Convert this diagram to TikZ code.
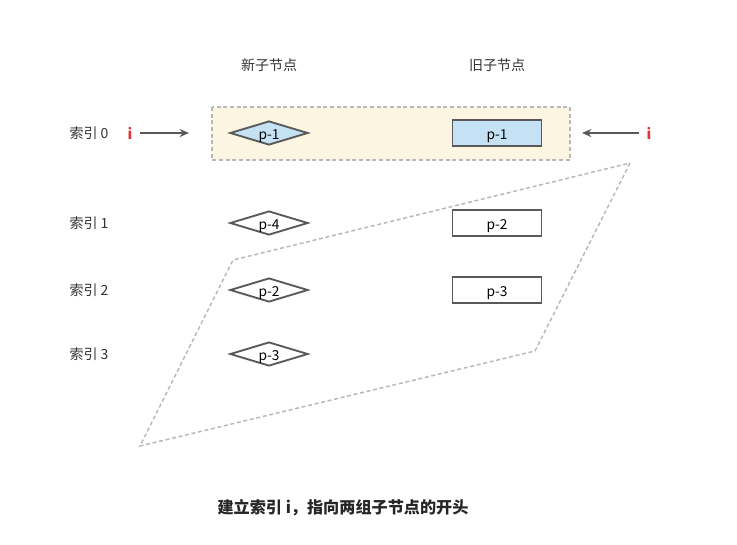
\documentclass[tikz,border=0pt]{standalone}
\usepackage{fontspec}
\setmainfont{Noto Sans CJK SC}
\usepackage{xcolor}
\usetikzlibrary{shapes.geometric,arrows.meta}

\definecolor{linegray}{HTML}{595959}
\definecolor{dashgray}{HTML}{B8B8B8}
\definecolor{paleblue}{HTML}{C5E2F5}
\definecolor{paleyellow}{HTML}{FCF5E1}
\definecolor{ired}{HTML}{E53333}

\tikzset{
  newnode/.style={diamond, draw=linegray, line width=1.4pt, fill=white, aspect=3.25,
    minimum width=58.5pt, minimum height=18pt, inner sep=0pt,
    text height=9.5pt, text depth=0.5pt, font=\fontsize{10.3pt}{11pt}\selectfont},
  oldnode/.style={rectangle, draw=linegray, line width=1.4pt, fill=white,
    minimum width=66.75pt, minimum height=19.5pt, inner sep=0pt,
    text height=9.5pt, text depth=0.5pt, font=\fontsize{10.3pt}{11pt}\selectfont},
  idxlabel/.style={font=\fontsize{10.5pt}{12pt}\selectfont, text=black!80},
  ptr/.style={font=\fontsize{11pt}{12pt}\selectfont\bfseries, text=ired},
  pointer/.style={-{Stealth[length=7pt,width=6pt]}, linegray, line width=1.4pt},
  outline/.style={dashgray, line width=1.1pt, dash pattern=on 3pt off 2pt},
}

\begin{document}
\begin{tikzpicture}[x=0.75pt, y=-0.75pt]
  \useasboundingbox (0,0) rectangle (737,544);
  \def\ra{133};
  \def\rb{223};
  \def\rc{290};
  \def\rd{354};

  % highlighted first row
  \draw[outline, fill=paleyellow] (212,107) rectangle (570,160);

  % column headers
  \node[idxlabel] (newhead) at (269,65) {新子节点};
  \node[idxlabel] (oldhead) at (497,65) {旧子节点};

  % index labels
  \node[idxlabel] (idx0) at (89,\ra) {索引 0};
  \node[idxlabel] (idx1) at (89,\rb) {索引 1};
  \node[idxlabel] (idx2) at (89,\rc) {索引 2};
  \node[idxlabel] (idx3) at (89,\rd) {索引 3};

  % new children
  \node[newnode, fill=paleblue] (new1) at (269,\ra) {p-1};
  \node[newnode] (new4) at (269,\rb) {p-4};
  \node[newnode] (new2) at (269,\rc) {p-2};
  \node[newnode] (new3) at (269,\rd) {p-3};

  % old children
  \node[oldnode, fill=paleblue] (old1) at (497,\ra) {p-1};
  \node[oldnode] (old2) at (497,\rb) {p-2};
  \node[oldnode] (old3) at (497,\rc) {p-3};

  % pointers i
  \node[ptr] (ileft) at (130,\ra) {i};
  \node[ptr] (iright) at (649,\ra) {i};
  \coordinate (ileftend) at (189,\ra);
  \coordinate (irightend) at (582,\ra);
  \draw[pointer] (ileft.east) ++(3,0) -- (ileftend);
  \draw[pointer] (iright.west) ++(-3,0) -- (irightend);

  % dashed outline of the rest
  \coordinate (P1) at (630,163);
  \coordinate (P2) at (535,351);
  \coordinate (P3) at (140,446);
  \coordinate (P4) at (233,260);
  \draw[outline] (P1) -- (P2) -- (P3) -- (P4) -- cycle;

  % caption
  \node[font=\fontsize{12.1pt}{14pt}\selectfont\bfseries, text=black!85] (caption) at (343,508)
    {建立索引 i，指向两组子节点的开头};
\end{tikzpicture}
\end{document}
